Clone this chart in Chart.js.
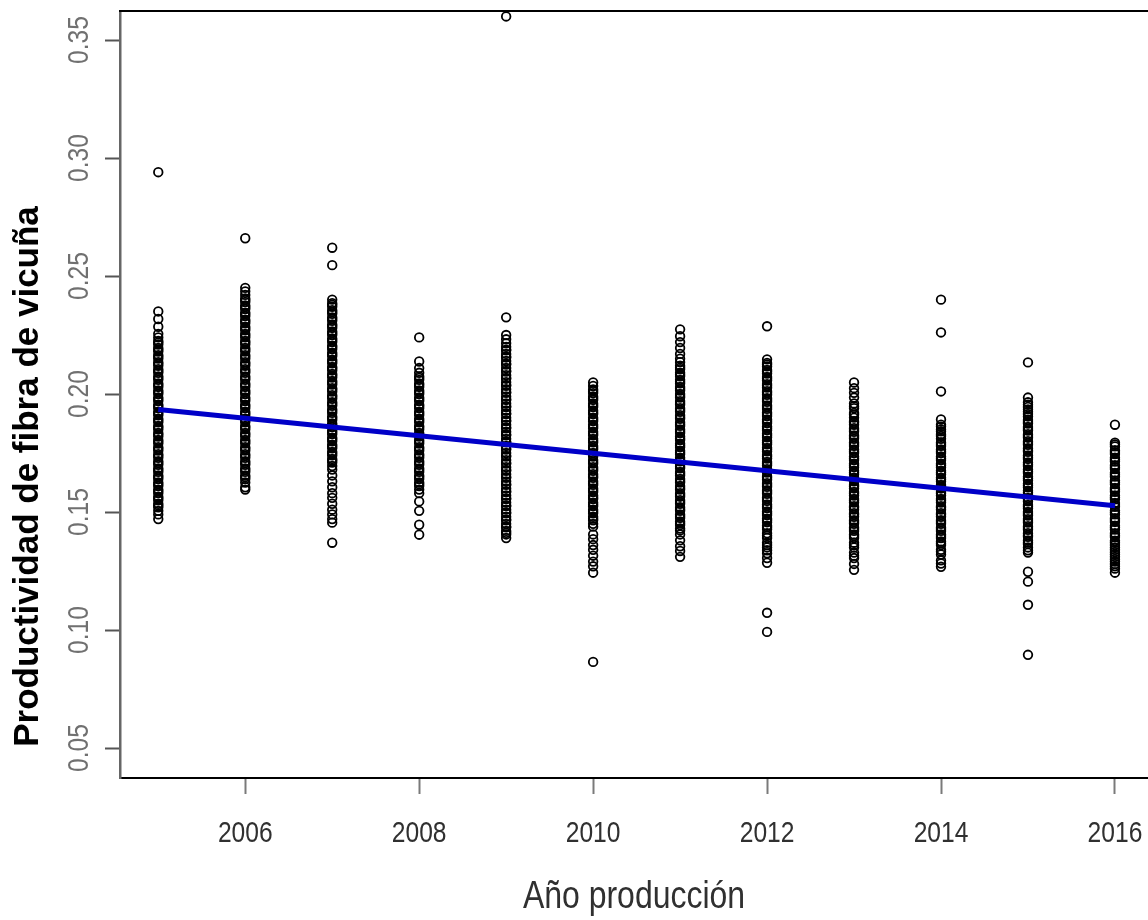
<!DOCTYPE html>
<html>
<head>
<meta charset="utf-8">
<script src="https://cdn.jsdelivr.net/npm/chart.js@4.4.1/dist/chart.umd.min.js"></script>
<style>
  html, body { margin: 0; padding: 0; background: #ffffff; overflow: hidden; }
  #wrap { width: 1148px; height: 920px; }
</style>
</head>
<body>
<div id="wrap"><canvas id="c" width="1148" height="920"></canvas></div>
<script>
// ---- Data ----
const years = [2005, 2006, 2007, 2008, 2009, 2010, 2011, 2012, 2013, 2014, 2015, 2016];

const prod2005 = [0.294, 0.235, 0.2318, 0.2285, 0.2255, 0.224, 0.2225, 0.221, 0.2195, 0.218, 0.2165, 0.215, 0.2135, 0.212, 0.2105, 0.209, 0.2075, 0.206, 0.2045, 0.203, 0.2015, 0.200, 0.1985, 0.197, 0.1955, 0.194, 0.1925, 0.191, 0.1895, 0.188, 0.1865, 0.185, 0.1835, 0.182, 0.1805, 0.179, 0.1775, 0.176, 0.1745, 0.173, 0.1715, 0.170, 0.1685, 0.167, 0.1655, 0.164, 0.1625, 0.161, 0.1595, 0.158, 0.1565, 0.155, 0.1535, 0.152, 0.1505, 0.149, 0.147,
  0.2218, 0.2188, 0.2158, 0.2128, 0.2098, 0.2068, 0.2038, 0.2008, 0.1978, 0.1948, 0.1918, 0.1888, 0.1858, 0.1828, 0.1798, 0.1768, 0.1738, 0.1708, 0.1678, 0.1648, 0.1618, 0.1588, 0.1558, 0.1528];
const prod2006 = [0.266, 0.245, 0.2435, 0.242, 0.2405, 0.239, 0.2375, 0.236, 0.2345, 0.233, 0.2315, 0.230, 0.2285, 0.227, 0.2255, 0.224, 0.2225, 0.221, 0.2195, 0.218, 0.2165, 0.215, 0.2135, 0.212, 0.2105, 0.209, 0.2075, 0.206, 0.2045, 0.203, 0.2015, 0.200, 0.1985, 0.197, 0.1955, 0.194, 0.1925, 0.191, 0.1895, 0.188, 0.1865, 0.185, 0.1835, 0.182, 0.1805, 0.179, 0.1775, 0.176, 0.1745, 0.173, 0.1715, 0.170, 0.1685, 0.167, 0.1655, 0.164, 0.1625, 0.1605, 0.1595,
  0.2398, 0.2368, 0.2338, 0.2308, 0.2278, 0.2248, 0.2218, 0.2188, 0.2158, 0.2128, 0.2098, 0.2068, 0.2038, 0.2008, 0.1978, 0.1948, 0.1918, 0.1888, 0.1858, 0.1828, 0.1798, 0.1768, 0.1738, 0.1708, 0.1678, 0.1648];
const prod2007 = [0.262, 0.2546, 0.240, 0.2385, 0.237, 0.2355, 0.234, 0.2325, 0.231, 0.2295, 0.228, 0.2265, 0.225, 0.2235, 0.222, 0.2205, 0.219, 0.2175, 0.216, 0.2145, 0.213, 0.2115, 0.210, 0.2085, 0.207, 0.2055, 0.204, 0.2025, 0.201, 0.1995, 0.198, 0.1965, 0.195, 0.1935, 0.192, 0.1905, 0.189, 0.1875, 0.186, 0.1845, 0.183, 0.1815, 0.180, 0.1785, 0.177, 0.1755, 0.174, 0.1725, 0.171, 0.1695, 0.168, 0.1655, 0.163, 0.1605, 0.158, 0.156, 0.1535, 0.151, 0.149, 0.147, 0.1455, 0.137,
  0.2378, 0.2348, 0.2318, 0.2288, 0.2258, 0.2228, 0.2198, 0.2168, 0.2138, 0.2108, 0.2078, 0.2048, 0.2018, 0.1988, 0.1958, 0.1928, 0.1898, 0.1868, 0.1838, 0.1808, 0.1778, 0.1748, 0.1718];
const prod2008 = [0.224, 0.2138, 0.211, 0.209, 0.2075, 0.206, 0.2045, 0.203, 0.2015, 0.200, 0.1985, 0.197, 0.1955, 0.194, 0.1925, 0.191, 0.1895, 0.188, 0.1865, 0.185, 0.1835, 0.182, 0.1805, 0.179, 0.1775, 0.176, 0.1745, 0.173, 0.1715, 0.170, 0.1685, 0.167, 0.1655, 0.164, 0.1625, 0.161, 0.1595, 0.158, 0.1545, 0.1505, 0.1446, 0.1404,
  0.2068, 0.2038, 0.2008, 0.1978, 0.1948, 0.1918, 0.1888, 0.1858, 0.1828, 0.1798, 0.1768, 0.1738, 0.1708, 0.1678, 0.1648, 0.1618];
const prod2009 = [0.360, 0.2325, 0.225, 0.2232, 0.2215, 0.220, 0.2185, 0.217, 0.2155, 0.214, 0.2125, 0.211, 0.2095, 0.208, 0.2065, 0.205, 0.2035, 0.202, 0.2005, 0.199, 0.1975, 0.196, 0.1945, 0.193, 0.1915, 0.190, 0.1885, 0.187, 0.1855, 0.184, 0.1825, 0.181, 0.1795, 0.178, 0.1765, 0.175, 0.1735, 0.172, 0.1705, 0.169, 0.1675, 0.166, 0.1645, 0.163, 0.1615, 0.160, 0.1585, 0.157, 0.1555, 0.154, 0.1525, 0.151, 0.1495, 0.148, 0.1465, 0.145, 0.1435, 0.142, 0.1405, 0.139,
  0.2188, 0.2158, 0.2128, 0.2098, 0.2068, 0.2038, 0.2008, 0.1978, 0.1948, 0.1918, 0.1888, 0.1858, 0.1828, 0.1798, 0.1768, 0.1738, 0.1708, 0.1678, 0.1648, 0.1618, 0.1588, 0.1558, 0.1528, 0.1498, 0.1468, 0.1438, 0.1412];
const prod2010 = [0.2049, 0.2034, 0.2019, 0.2004, 0.199, 0.1975, 0.196, 0.1945, 0.193, 0.1915, 0.190, 0.1885, 0.187, 0.1855, 0.184, 0.1825, 0.181, 0.1795, 0.178, 0.1765, 0.175, 0.1735, 0.172, 0.1705, 0.169, 0.1675, 0.166, 0.1645, 0.163, 0.1615, 0.160, 0.1585, 0.157, 0.1555, 0.154, 0.1525, 0.151, 0.1495, 0.148, 0.1465, 0.145, 0.1438, 0.1405, 0.1385, 0.136, 0.134, 0.1315, 0.129, 0.127, 0.1243, 0.0865,
  0.2012, 0.1982, 0.1952, 0.1922, 0.1892, 0.1862, 0.1832, 0.1802, 0.1772, 0.1742, 0.1712, 0.1682, 0.1652, 0.1622, 0.1592, 0.1562, 0.1532, 0.1502, 0.1472];
const prod2011 = [0.2274, 0.2245, 0.222, 0.2195, 0.217, 0.215, 0.2135, 0.212, 0.2105, 0.209, 0.2075, 0.206, 0.2045, 0.203, 0.2015, 0.200, 0.1985, 0.197, 0.1955, 0.194, 0.1925, 0.191, 0.1895, 0.188, 0.1865, 0.185, 0.1835, 0.182, 0.1805, 0.179, 0.1775, 0.176, 0.1745, 0.173, 0.1715, 0.170, 0.1685, 0.167, 0.1655, 0.164, 0.1625, 0.161, 0.1595, 0.158, 0.1565, 0.155, 0.1535, 0.152, 0.1505, 0.149, 0.1475, 0.146, 0.1445, 0.143, 0.1405, 0.138, 0.1355, 0.1335, 0.131,
  0.2112, 0.2082, 0.2052, 0.2022, 0.1992, 0.1962, 0.1932, 0.1902, 0.1872, 0.1842, 0.1812, 0.1782, 0.1752, 0.1722, 0.1692, 0.1662, 0.1632, 0.1602, 0.1572, 0.1542, 0.1512, 0.1482, 0.1452, 0.1422];
const prod2012 = [0.2287, 0.2147, 0.2132, 0.2117, 0.2102, 0.2087, 0.2072, 0.2057, 0.2042, 0.2027, 0.2012, 0.1997, 0.1982, 0.1967, 0.1952, 0.1937, 0.1922, 0.1907, 0.1892, 0.1877, 0.1862, 0.1847, 0.1832, 0.1817, 0.1802, 0.1787, 0.1772, 0.1757, 0.1742, 0.1727, 0.1712, 0.1697, 0.1682, 0.1667, 0.1652, 0.1637, 0.1622, 0.1607, 0.1592, 0.1577, 0.1562, 0.1547, 0.1532, 0.1517, 0.1502, 0.1487, 0.1472, 0.1457, 0.1442, 0.1427, 0.141, 0.139, 0.137, 0.135, 0.1325, 0.1305, 0.1285, 0.1073, 0.0992,
  0.2125, 0.2095, 0.2065, 0.2035, 0.2005, 0.1975, 0.1945, 0.1915, 0.1885, 0.1855, 0.1825, 0.1795, 0.1765, 0.1735, 0.1705, 0.1675, 0.1645, 0.1615, 0.1585, 0.1555, 0.1525, 0.1495, 0.1465, 0.1435, 0.140, 0.136, 0.1338];
const prod2013 = [0.2049, 0.2025, 0.2005, 0.1985, 0.196, 0.194, 0.192, 0.190, 0.1885, 0.187, 0.1855, 0.184, 0.1825, 0.181, 0.1795, 0.178, 0.1765, 0.175, 0.1735, 0.172, 0.1705, 0.169, 0.1675, 0.166, 0.1645, 0.163, 0.1615, 0.160, 0.1585, 0.157, 0.1555, 0.154, 0.1525, 0.151, 0.1495, 0.148, 0.1465, 0.145, 0.1435, 0.142, 0.1405, 0.139, 0.137, 0.135, 0.1328, 0.1305, 0.128, 0.1255,
  0.1948, 0.1912, 0.1878, 0.1848, 0.1818, 0.1788, 0.1758, 0.1728, 0.1698, 0.1668, 0.1638, 0.1608, 0.1578, 0.1548, 0.1518, 0.1488, 0.1458, 0.1428, 0.1398, 0.136, 0.1315];
const prod2014 = [0.240, 0.2261, 0.2011, 0.1892, 0.187, 0.185, 0.183, 0.181, 0.1795, 0.178, 0.1765, 0.175, 0.1735, 0.172, 0.1705, 0.169, 0.1675, 0.166, 0.1645, 0.163, 0.1615, 0.160, 0.1585, 0.157, 0.1555, 0.154, 0.1525, 0.151, 0.1495, 0.148, 0.1465, 0.145, 0.1435, 0.142, 0.1405, 0.139, 0.1375, 0.136, 0.134, 0.132, 0.1295, 0.1268,
  0.1862, 0.1842, 0.1822, 0.1788, 0.1758, 0.1728, 0.1698, 0.1668, 0.1638, 0.1608, 0.1578, 0.1548, 0.1518, 0.1488, 0.1458, 0.1428, 0.1398, 0.1368, 0.1332, 0.1282];
const prod2015 = [0.2134, 0.1985, 0.1965, 0.1945, 0.1925, 0.1905, 0.189, 0.1875, 0.186, 0.1845, 0.183, 0.1815, 0.180, 0.1785, 0.177, 0.1755, 0.174, 0.1725, 0.171, 0.1695, 0.168, 0.1665, 0.165, 0.1635, 0.162, 0.1605, 0.159, 0.1575, 0.156, 0.1545, 0.153, 0.1515, 0.150, 0.1485, 0.147, 0.1455, 0.144, 0.1425, 0.141, 0.1395, 0.138, 0.1365, 0.135, 0.1328, 0.1247, 0.1205, 0.1107, 0.0895,
  0.1955, 0.1935, 0.1915, 0.1882, 0.1852, 0.1822, 0.1792, 0.1762, 0.1732, 0.1702, 0.1672, 0.1642, 0.1612, 0.1582, 0.1552, 0.1522, 0.1492, 0.1462, 0.1432, 0.1402, 0.1372, 0.1338];
const prod2016 = [0.187, 0.1794, 0.1778, 0.1762, 0.1746, 0.173, 0.1714, 0.1698, 0.1682, 0.1666, 0.165, 0.1634, 0.1618, 0.1602, 0.1586, 0.157, 0.1554, 0.1538, 0.1522, 0.1506, 0.149, 0.1474, 0.1458, 0.1442, 0.1426, 0.141, 0.1394, 0.1378, 0.136, 0.134, 0.132, 0.130, 0.128, 0.126, 0.1243,
  0.1786, 0.1754, 0.1722, 0.169, 0.1658, 0.1626, 0.1594, 0.1562, 0.153, 0.1498, 0.1466, 0.1434, 0.1402, 0.137, 0.135, 0.133, 0.131, 0.129, 0.127];

const valuesByYear = [prod2005, prod2006, prod2007, prod2008, prod2009, prod2010, prod2011, prod2012, prod2013, prod2014, prod2015, prod2016];

// fitted regression line (end points)
const fitYears = [2005, 2016];
const fitValues = [0.1934, 0.1527];

// axis ticks
const xTickValues = [2006, 2008, 2010, 2012, 2014, 2016];
const xTickLabels = ['2006', '2008', '2010', '2012', '2014', '2016'];
const yTickValues = [0.05, 0.10, 0.15, 0.20, 0.25, 0.30, 0.35];
const yTickLabels = ['0.05', '0.10', '0.15', '0.20', '0.25', '0.30', '0.35'];

const xTitle = 'Año producción';
const yTitle = 'Productividad de fibra de vicuña';

// ---- build datasets ----
const scatterPoints = [];
years.forEach((yr, i) => {
  valuesByYear[i].forEach(v => scatterPoints.push({ x: yr, y: v }));
});
const fitPoints = fitYears.map((yr, i) => ({ x: yr, y: fitValues[i] }));

const baseFont = '"Liberation Sans", Arial, sans-serif';
const NARROW = 0.82; // horizontal squeeze to mimic a narrow face

const extrasPlugin = {
  id: 'extras',
  afterDraw(chart) {
    const ctx = chart.ctx;
    const area = chart.chartArea;
    const ys = chart.scales.y;
    const xs = chart.scales.x;
    ctx.save();
    // top frame line
    ctx.strokeStyle = '#000000';
    ctx.lineWidth = 2;
    ctx.beginPath();
    ctx.moveTo(area.left - 1, area.top);
    ctx.lineTo(area.right + 2, area.top);
    ctx.stroke();

    ctx.textAlign = 'center';
    ctx.textBaseline = 'alphabetic';

    // rotated y tick labels
    ctx.fillStyle = '#707070';
    ctx.font = '30px ' + baseFont;
    yTickValues.forEach((v, i) => {
      const py = ys.getPixelForValue(v);
      ctx.save();
      ctx.translate(88, py);
      ctx.rotate(-Math.PI / 2);
      ctx.scale(NARROW, 1);
      ctx.fillText(yTickLabels[i], 0, 0);
      ctx.restore();
    });

    // x tick labels
    ctx.fillStyle = '#303030';
    ctx.font = '30px ' + baseFont;
    xTickValues.forEach((v, i) => {
      const px = xs.getPixelForValue(v);
      ctx.save();
      ctx.translate(px, 842);
      ctx.scale(NARROW, 1);
      ctx.fillText(xTickLabels[i], 0, 0);
      ctx.restore();
    });

    // x axis title
    ctx.fillStyle = '#303030';
    ctx.font = '39px ' + baseFont;
    ctx.save();
    ctx.translate((xs.left + xs.right) / 2, 908);
    ctx.scale(NARROW, 1);
    ctx.fillText(xTitle, 0, 0);
    ctx.restore();

    // y axis title
    ctx.fillStyle = '#000000';
    ctx.font = 'bold 35px ' + baseFont;
    ctx.save();
    ctx.translate(38, 476.5);
    ctx.rotate(-Math.PI / 2);
    ctx.fillText(yTitle, 0, 0);
    ctx.restore();
    ctx.restore();
  }
};

new Chart(document.getElementById('c'), {
  type: 'scatter',
  data: {
    datasets: [
      {
        type: 'line',
        label: 'Ajuste',
        data: fitPoints,
        borderColor: '#0000c8',
        borderWidth: 5,
        pointRadius: 0,
        fill: false,
        tension: 0
      },
      {
        label: 'Productividad',
        data: scatterPoints,
        pointStyle: 'circle',
        pointRadius: 4.3,
        pointBorderWidth: 1.8,
        borderColor: '#000000',
        backgroundColor: 'rgba(0,0,0,0)',
        pointBackgroundColor: 'rgba(0,0,0,0)',
        pointHoverRadius: 4.3
      }
    ]
  },
  options: {
    responsive: false,
    animation: false,
    events: [],
    layout: { autoPadding: false, padding: { top: 11, right: 0, bottom: 0, left: 0 } },
    plugins: {
      legend: { display: false },
      tooltip: { enabled: false }
    },
    scales: {
      x: {
        type: 'linear',
        min: 2004.56,
        max: 2016.38,
        afterFit(s) { s.height = 142; s.paddingLeft = 0; s.paddingRight = 0; },
        afterBuildTicks(s) { s.ticks = xTickValues.map(v => ({ value: v })); },
        grid: {
          drawOnChartArea: false,
          drawTicks: true,
          tickLength: 16,
          tickColor: '#7a7a7a',
          tickWidth: 2
        },
        border: { display: true, color: '#000000', width: 2 },
        ticks: { display: false },
        title: { display: false }
      },
      y: {
        type: 'linear',
        min: 0.0373,
        max: 0.3623,
        afterFit(s) { s.width = 120; },
        afterBuildTicks(s) { s.ticks = yTickValues.map(v => ({ value: v })); },
        grid: {
          drawOnChartArea: false,
          drawTicks: true,
          tickLength: 15,
          tickColor: '#555555',
          tickWidth: 2
        },
        border: { display: true, color: '#666666', width: 2.5 },
        ticks: { display: false }
      }
    }
  },
  plugins: [extrasPlugin]
});
</script>
</body>
</html>
